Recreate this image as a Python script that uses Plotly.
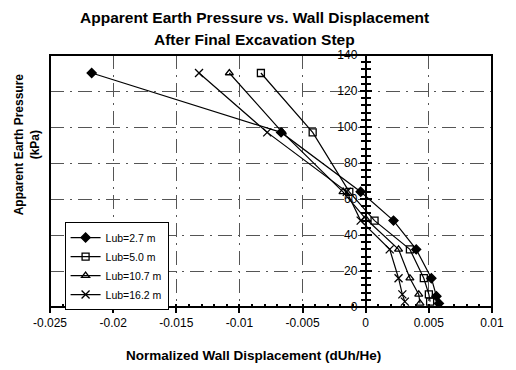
import plotly.graph_objects as go

# Data (pressure kPa vs normalized wall displacement)
names = ["Lub=2.7 m", "Lub=5.0 m", "Lub=10.7 m", "Lub=16.2 m"]
disp_27 = [-0.0217, -0.0067, -0.0004, 0.0022, 0.0040, 0.0052, 0.0056, 0.0058]
pres_27 = [130, 97, 64, 48, 32, 16, 6, 2]
disp_50 = [-0.0083, -0.0042, -0.0013, 0.0007, 0.0035, 0.0046, 0.0050, 0.0051]
pres_50 = [130, 97, 64, 48, 32, 16, 7, 3]
disp_107 = [-0.0108, -0.0066, -0.0018, 0.0000, 0.0026, 0.0035, 0.0042, 0.0043]
pres_107 = [130, 97, 64, 49, 32, 16, 7, 2]
disp_162 = [-0.0132, -0.0078, -0.0015, -0.0004, 0.0019, 0.0026, 0.0029, 0.0031]
pres_162 = [130, 97, 64, 48, 32, 16, 7, 3]

xs = [disp_27, disp_50, disp_107, disp_162]
ys = [pres_27, pres_50, pres_107, pres_162]
symbols = ["diamond", "square-open", "triangle-up-open", "x-thin-open"]
sizes = [7, 7, 7, 8]

x_ticks = [-0.025, -0.02, -0.015, -0.01, -0.005, 0, 0.005, 0.01]
x_ticktext = ["-0.025", "-0.02", "-0.015", "-0.01", "-0.005", "0", "0.005", "0.01"]
y_ticks = [0, 20, 40, 60, 80, 100, 120, 140]

XMIN, XMAX = -0.025, 0.01
YMIN, YMAX = 0, 140

FONT = "Liberation Sans, Arial, sans-serif"

fig = go.Figure()
for n, x, y, s, sz in zip(names, xs, ys, symbols, sizes):
    fig.add_trace(go.Scatter(
        x=x, y=y, name=n, mode="lines+markers",
        line=dict(color="black", width=1.2),
        marker=dict(symbol=s, size=sz, color="black",
                    line=dict(color="black", width=1.3)),
    ))

ypos = (0 - XMIN) / (XMAX - XMIN)
grid_dash = "14px,6px,2px,6px"

fig.update_layout(
    width=516, height=370,
    margin=dict(l=50, r=14, t=55, b=63),
    paper_bgcolor="white", plot_bgcolor="white",
    font=dict(family=FONT, size=12, color="black"),
    showlegend=True,
    legend=dict(
        x=0.033, y=0.337, xanchor="left", yanchor="top",
        bgcolor="white", bordercolor="black", borderwidth=1,
        font=dict(family=FONT, size=10.5, color="black"),
        tracegroupgap=0, itemwidth=30,
    ),
    xaxis=dict(
        range=[XMIN, XMAX], domain=[0, 1],
        tickvals=x_ticks, ticktext=x_ticktext,
        ticks="outside", ticklen=5, tickwidth=1.5, tickcolor="black",
        minor=dict(dtick=0.001, ticks="inside", ticklen=3, tickcolor="black",
                   showgrid=False),
        showgrid=True, gridcolor="#555", gridwidth=0.8, griddash=grid_dash,
        zeroline=False, showline=False,
        tickfont=dict(family=FONT, size=12, color="black"),
    ),
    yaxis=dict(
        range=[YMIN, YMAX], anchor="free", position=ypos, side="left",
        tickvals=y_ticks,
        ticks="outside", ticklen=5, tickwidth=1.5, tickcolor="black",
        minor=dict(dtick=4, ticks="outside", ticklen=4, tickcolor="black",
                   showgrid=False),
        showgrid=True, gridcolor="#555", gridwidth=0.8, griddash=grid_dash,
        zeroline=False, showline=True, linecolor="black", linewidth=2,
        tickfont=dict(family=FONT, size=12, color="black"),
    ),
    yaxis2=dict(
        range=[YMIN, YMAX], overlaying="y", anchor="free", position=ypos,
        side="right", tickvals=y_ticks, showticklabels=False,
        ticks="outside", ticklen=5, tickwidth=1.5, tickcolor="black",
        minor=dict(dtick=4, ticks="outside", ticklen=4, tickcolor="black",
                   showgrid=False),
        showgrid=False, zeroline=False, showline=False,
    ),
    shapes=[dict(type="rect", xref="paper", yref="paper", x0=0, y0=0, x1=1, y1=1,
                 line=dict(color="black", width=2), layer="above")],
    annotations=[
        dict(text="<b>Apparent Earth Pressure vs. Wall Displacement</b>",
             xref="paper", yref="paper", x=0.462, y=(307 - 17) / 252,
             xanchor="center", yanchor="middle", showarrow=False,
             font=dict(family=FONT, size=15.5, color="black")),
        dict(text="<b>After Final Excavation Step</b>",
             xref="paper", yref="paper", x=0.462, y=(307 - 39) / 252,
             xanchor="center", yanchor="middle", showarrow=False,
             font=dict(family=FONT, size=15.5, color="black")),
        dict(text="<b>Apparent Earth Pressure<br>(kPa)</b>", textangle=-90,
             xref="paper", yref="paper", x=-0.05, y=0.645,
             xanchor="center", yanchor="middle", showarrow=False,
             font=dict(family=FONT, size=12, color="black")),
        dict(text="<b>Normalized Wall Displacement (dUh/He)</b>",
             xref="paper", yref="paper", x=0.46, y=(307 - 355) / 252,
             xanchor="center", yanchor="middle", showarrow=False,
             font=dict(family=FONT, size=13.5, color="black")),
    ],
)

# invisible trace for yaxis2 so its ticks render
fig.add_trace(go.Scatter(x=[0], y=[0], yaxis="y2", mode="markers",
                         marker=dict(opacity=0), showlegend=False, hoverinfo="skip"))

fig.write_html("out.html")
